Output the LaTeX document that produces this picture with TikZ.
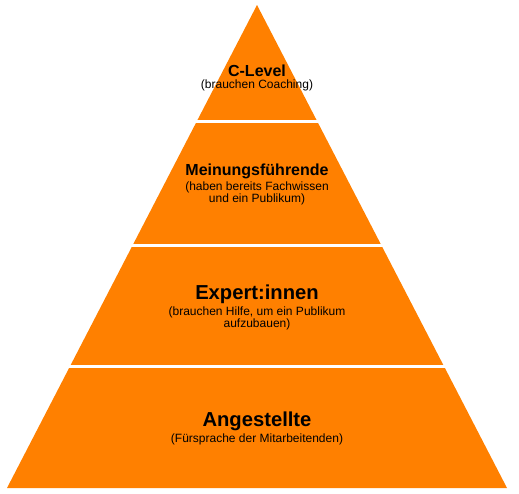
\documentclass[tikz,border=0pt]{standalone}
\usepackage{fontspec}
\setmainfont{Liberation Sans}
\usetikzlibrary{positioning,calc}
\definecolor{pyrorange}{RGB}{255,128,0}
\tikzset{
  ttl/.style={inner sep=0pt, font=\bfseries\fontsize{16}{18}\selectfont, align=center},
  bigttl/.style={ttl, font=\bfseries\fontsize{20.2}{22}\selectfont},
  sub/.style={inner sep=0pt, font=\fontsize{12}{12.8}\selectfont, align=center},
  gap/.style={white, line width=3pt},
}
\begin{document}
\begin{tikzpicture}[x=1pt, y=-1pt, node distance=2.5pt]
\useasboundingbox (0,0) rectangle (519,493);
\coordinate (apex) at (257,5);
\coordinate (bl) at (7,488);
\coordinate (br) at (507,488);
\fill[pyrorange] (apex) -- (br) -- (bl) -- cycle;
\foreach \t in {0.2418,0.4973,0.749}
  \draw[gap] ($(apex)!\t!(bl)+(-5,0)$) -- ($(apex)!\t!(br)+(5,0)$);
% labels
\node[ttl] (clevel) at (257,71) {C-Level};
\node[sub, below=of clevel] (clevelsub) {(brauchen Coaching)};
\node[ttl] (meinung) at (257,171) {Meinungsführende};
\node[sub, below=of meinung] (meinungsub) {(haben bereits Fachwissen\\und ein Publikum)};
\node[bigttl] (expert) at (257,294) {Expert:innen};
\node[sub, below=of expert] (expertsub) {(brauchen Hilfe, um ein Publikum\\aufzubauen)};
\node[bigttl] (angest) at (257,421) {Angestellte};
\node[sub, below=of angest] (angestsub) {(Fürsprache der Mitarbeitenden)};
\end{tikzpicture}
\end{document}
